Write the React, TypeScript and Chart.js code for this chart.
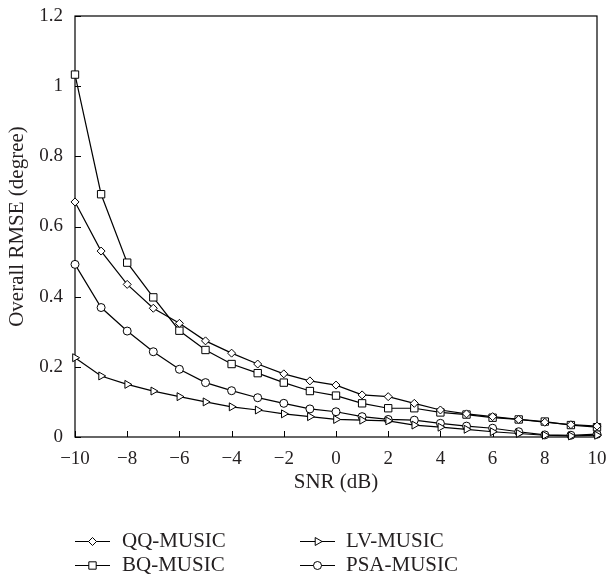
import React, { useEffect, useRef } from 'react';
import { Chart, registerables } from 'chart.js';
import { drawPoint } from 'chart.js/helpers';

Chart.register(...registerables);

// ---- data ----
const snr = [-10, -9, -8, -7, -6, -5, -4, -3, -2, -1, 0, 1, 2, 3, 4, 5, 6, 7, 8, 9, 10];
const qqMusic = [0.67, 0.53, 0.435, 0.367, 0.324, 0.274, 0.239, 0.208, 0.18, 0.16, 0.148, 0.12, 0.115, 0.096, 0.077, 0.066, 0.058, 0.05, 0.042, 0.035, 0.031];
const bqMusic = [1.033, 0.692, 0.497, 0.398, 0.303, 0.248, 0.208, 0.182, 0.155, 0.131, 0.118, 0.096, 0.082, 0.082, 0.07, 0.064, 0.055, 0.05, 0.044, 0.034, 0.028];
const lvMusic = [0.226, 0.174, 0.15, 0.131, 0.115, 0.1, 0.086, 0.077, 0.066, 0.058, 0.05, 0.048, 0.046, 0.034, 0.028, 0.022, 0.015, 0.01, 0.005, 0.003, 0.005];
const psaMusic = [0.492, 0.369, 0.302, 0.243, 0.193, 0.155, 0.132, 0.112, 0.096, 0.08, 0.072, 0.058, 0.05, 0.048, 0.039, 0.031, 0.025, 0.015, 0.006, 0.005, 0.008];
const seriesNames = ['QQ-MUSIC', 'BQ-MUSIC', 'LV-MUSIC', 'PSA-MUSIC'];
const xTicks = [-10, -8, -6, -4, -2, 0, 2, 4, 6, 8, 10];
const xTickLabels = ['\u221210', '\u22128', '\u22126', '\u22124', '\u22122', '0', '2', '4', '6', '8', '10'];
const yTicks = [0, 0.2, 0.4, 0.6, 0.8, 1, 1.2];
const yTickLabels = ['0', '0.2', '0.4', '0.6', '0.8', '1', '1.2'];
const xTitle = 'SNR (dB)';
const yTitle = 'Overall RMSE (degree)';

const FONT = "'Liberation Serif', 'DejaVu Serif', serif";
const TEXT = '#231f20';
const INK = '#000000';

const markerStyles = [
  { pointStyle: 'rectRot', radius: 4, rotation: 0 },
  { pointStyle: 'rect', radius: 5.2, rotation: 0 },
  { pointStyle: 'triangle', radius: 4.6, rotation: 90 },
  { pointStyle: 'circle', radius: 4, rotation: 0 },
];

const seriesValues = [qqMusic, bqMusic, lvMusic, psaMusic];

const framePlugin = {
  id: 'frame',
  beforeDatasetsDraw(chart: any) {
    const { ctx, chartArea } = chart;
    const xs = chart.scales.x;
    const ys = chart.scales.y;
    ctx.save();
    ctx.strokeStyle = INK;
    ctx.lineWidth = 1.2;
    ctx.strokeRect(chartArea.left, chartArea.top, chartArea.right - chartArea.left, chartArea.bottom - chartArea.top);
    ctx.beginPath();
    xTicks.forEach((v) => {
      const px = Math.round(xs.getPixelForValue(v)) + 0.5;
      ctx.moveTo(px, chartArea.bottom);
      ctx.lineTo(px, chartArea.bottom - 6);
    });
    yTicks.forEach((v) => {
      const py = Math.round(ys.getPixelForValue(v)) + 0.5;
      ctx.moveTo(chartArea.left, py);
      ctx.lineTo(chartArea.left + 6, py);
    });
    ctx.lineWidth = 1;
    ctx.stroke();
    ctx.restore();
  },
  afterDraw(chart: any) {
    const { ctx } = chart;
    const cols = [{ lineStart: 75, lineEnd: 110, text: 122 }, { lineStart: 300, lineEnd: 335, text: 346 }];
    const rows = [541.5, 565.5];
    ctx.save();
    chart.data.datasets.forEach((ds: any, i: number) => {
      const c = cols[Math.floor(i / 2)];
      const y = rows[i % 2];
      ctx.strokeStyle = INK;
      ctx.lineWidth = 1.2;
      ctx.beginPath();
      ctx.moveTo(c.lineStart, y);
      ctx.lineTo(c.lineEnd, y);
      ctx.stroke();
      ctx.fillStyle = '#ffffff';
      ctx.strokeStyle = INK;
      ctx.lineWidth = 1;
      const m = markerStyles[i];
      drawPoint(ctx, { pointStyle: m.pointStyle as any, radius: m.radius, rotation: m.rotation, borderWidth: 1 }, (c.lineStart + c.lineEnd) / 2, y);
      ctx.fillStyle = TEXT;
      ctx.font = `21px ${FONT}`;
      ctx.textAlign = 'left';
      ctx.textBaseline = 'middle';
      ctx.fillText(ds.label, c.text, y);
    });
    ctx.restore();
  },
};

export default function App() {
  const ref = useRef<HTMLCanvasElement>(null);
  useEffect(() => {
    if (!ref.current) return;
    const datasets = seriesValues.map((vals, i) => ({
      label: seriesNames[i],
      data: snr.map((x, j) => ({ x, y: vals[j] })),
      borderColor: INK,
      borderWidth: 1.2,
      backgroundColor: '#ffffff',
      pointStyle: markerStyles[i].pointStyle as any,
      pointRadius: markerStyles[i].radius,
      pointRotation: markerStyles[i].rotation,
      pointBackgroundColor: '#ffffff',
      pointBorderColor: INK,
      pointBorderWidth: 1,
      tension: 0,
      fill: false,
      clip: false as any,
    }));
    const chart = new Chart(ref.current, {
      type: 'line',
      data: { datasets },
      plugins: [framePlugin],
      options: {
        animation: false,
        responsive: true,
        maintainAspectRatio: false,
        layout: { padding: { top: 16, right: 9, bottom: 65, left: 0 } },
        plugins: { legend: { display: false }, tooltip: { enabled: false } },
        scales: {
          x: {
            type: 'linear',
            min: -10,
            max: 10,
            grid: { display: false, drawTicks: false },
            border: { display: false },
            afterBuildTicks: (s: any) => {
              s.ticks = xTicks.map((v) => ({ value: v }));
            },
            afterFit: (s: any) => {
              s.height = 78;
              s.paddingLeft = 0;
              s.paddingRight = 0;
            },
            ticks: {
              autoSkip: false,
              maxRotation: 0,
              padding: 11,
              color: TEXT,
              font: { family: FONT, size: 19 },
              callback: (_v: any, idx: number) => xTickLabels[idx],
            },
            title: {
              display: true,
              text: xTitle,
              color: TEXT,
              font: { family: FONT, size: 21 },
              padding: { top: 0, bottom: 20 },
            },
          },
          y: {
            type: 'linear',
            min: 0,
            max: 1.2,
            grid: { display: false, drawTicks: false },
            border: { display: false },
            afterBuildTicks: (s: any) => {
              s.ticks = yTicks.map((v) => ({ value: v }));
            },
            afterFit: (s: any) => {
              s.width = 75;
              s.paddingTop = 0;
              s.paddingBottom = 0;
            },
            ticks: {
              padding: 12,
              color: TEXT,
              font: { family: FONT, size: 19 },
              callback: (_v: any, idx: number) => yTickLabels[idx],
            },
            title: {
              display: true,
              text: yTitle,
              color: TEXT,
              font: { family: FONT, size: 21 },
              padding: { top: 5, bottom: 0 },
            },
          },
        },
      },
    });
    return () => chart.destroy();
  }, []);
  return (
    <div style={{ position: 'absolute', left: 0, top: 0, width: 606, height: 580 }}>
      <canvas ref={ref} />
    </div>
  );
}
